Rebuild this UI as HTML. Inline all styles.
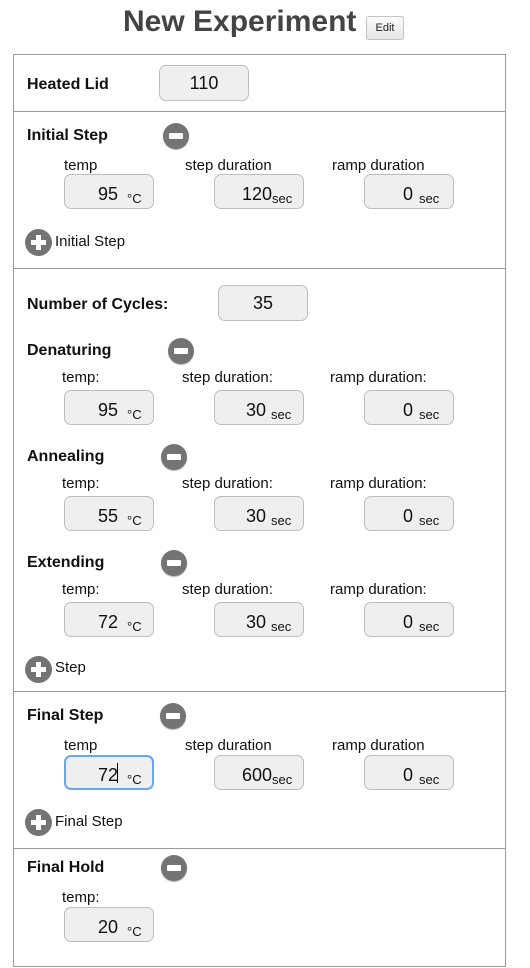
<!DOCTYPE html>
<html><head><meta charset="utf-8"><style>
body{margin:0;width:530px;height:968px;background:#fff;font-family:"Liberation Sans",Arial,sans-serif;position:relative;overflow:hidden;color:#111}
.a{position:absolute;white-space:nowrap}
.t{font-size:15px;line-height:18px}
.h{font-size:16px;font-weight:bold;line-height:18px}
.b{position:absolute;width:88px;height:35px;border:1px solid #bdbdbd;border-radius:7px;background:#efefef;box-sizing:border-box;width:90px}
.v{position:absolute;font-size:18px;line-height:20px;text-align:right}
.u{position:absolute;font-size:13px;line-height:14px}
.m{position:absolute;width:26px;height:26px;border-radius:50%;background:#747474;box-shadow:0 1px 1px rgba(0,0,0,.3)}
.m:after{content:"";position:absolute;left:6px;top:10px;width:14px;height:6px;background:#fff;border-radius:1px}
.p{position:absolute;width:27px;height:27px;border-radius:50%;background:#747474}
.p:before{content:"";position:absolute;left:6px;top:11px;width:15px;height:5px;background:#fff}
.p:after{content:"";position:absolute;left:11px;top:6px;width:5px;height:15px;background:#fff}
.hr{position:absolute;left:13px;width:493px;height:1px;background:#9a9a9a}
</style></head><body>
<div class="a" style="left:123px;top:4px;font-size:30px;font-weight:bold;color:#444;line-height:36px">New Experiment</div>
<div class="a" style="left:366px;top:16px;width:36px;height:22px;border:1px solid #c4c4c4;border-radius:3px;background:linear-gradient(#fafafa,#e6e6e6);font-size:11px;line-height:22px;text-align:center;color:#222">Edit</div>
<div class="a" style="left:13px;top:54px;width:491px;height:911px;border:1px solid #9a9a9a"></div>
<div class="hr" style="top:111px"></div>
<div class="hr" style="top:268px"></div>
<div class="hr" style="top:691px"></div>
<div class="hr" style="top:848px"></div>

<div class="a h" style="left:27px;top:76px">Heated Lid</div>
<div class="b" style="left:159px;top:65px;height:36px"></div>
<div class="v" style="left:159px;top:73px;width:90px;text-align:center">110</div>

<div class="a h" style="left:27px;top:127px">Initial Step</div>
<div class="m" style="left:163px;top:123px"></div>
<div class="a t" style="left:64px;top:157px">temp</div>
<div class="a t" style="left:185px;top:157px">step duration</div>
<div class="a t" style="left:332px;top:157px">ramp duration</div>
<div class="b" style="left:64px;top:174px"></div>
<div class="v" style="left:64px;top:184px;width:54px">95</div><div class="u" style="left:127px;top:192px">°C</div>
<div class="b" style="left:214px;top:174px"></div>
<div class="v" style="left:214px;top:184px;width:58px">120</div><div class="u" style="left:272px;top:192px">sec</div>
<div class="b" style="left:364px;top:174px"></div>
<div class="v" style="left:364px;top:184px;width:49px">0</div><div class="u" style="left:419px;top:192px">sec</div>
<div class="p" style="left:25px;top:229px"></div>
<div class="a t" style="left:55px;top:233px">Initial Step</div>

<div class="a h" style="left:27px;top:296px">Number of Cycles:</div>
<div class="b" style="left:218px;top:285px;height:36px"></div>
<div class="v" style="left:218px;top:293px;width:90px;text-align:center">35</div>

<div class="a h" style="left:27px;top:342px">Denaturing</div>
<div class="m" style="left:168px;top:338px"></div>
<div class="a t" style="left:62px;top:369px">temp:</div>
<div class="a t" style="left:182px;top:369px">step duration:</div>
<div class="a t" style="left:330px;top:369px">ramp duration:</div>
<div class="b" style="left:64px;top:390px"></div>
<div class="v" style="left:64px;top:400px;width:54px">95</div><div class="u" style="left:127px;top:408px">°C</div>
<div class="b" style="left:214px;top:390px"></div>
<div class="v" style="left:214px;top:400px;width:52px">30</div><div class="u" style="left:271px;top:408px">sec</div>
<div class="b" style="left:364px;top:390px"></div>
<div class="v" style="left:364px;top:400px;width:49px">0</div><div class="u" style="left:419px;top:408px">sec</div>

<div class="a h" style="left:27px;top:448px">Annealing</div>
<div class="m" style="left:161px;top:444px"></div>
<div class="a t" style="left:62px;top:475px">temp:</div>
<div class="a t" style="left:182px;top:475px">step duration:</div>
<div class="a t" style="left:330px;top:475px">ramp duration:</div>
<div class="b" style="left:64px;top:496px"></div>
<div class="v" style="left:64px;top:506px;width:54px">55</div><div class="u" style="left:127px;top:514px">°C</div>
<div class="b" style="left:214px;top:496px"></div>
<div class="v" style="left:214px;top:506px;width:52px">30</div><div class="u" style="left:271px;top:514px">sec</div>
<div class="b" style="left:364px;top:496px"></div>
<div class="v" style="left:364px;top:506px;width:49px">0</div><div class="u" style="left:419px;top:514px">sec</div>

<div class="a h" style="left:27px;top:554px">Extending</div>
<div class="m" style="left:161px;top:550px"></div>
<div class="a t" style="left:62px;top:581px">temp:</div>
<div class="a t" style="left:182px;top:581px">step duration:</div>
<div class="a t" style="left:330px;top:581px">ramp duration:</div>
<div class="b" style="left:64px;top:602px"></div>
<div class="v" style="left:64px;top:612px;width:54px">72</div><div class="u" style="left:127px;top:620px">°C</div>
<div class="b" style="left:214px;top:602px"></div>
<div class="v" style="left:214px;top:612px;width:52px">30</div><div class="u" style="left:271px;top:620px">sec</div>
<div class="b" style="left:364px;top:602px"></div>
<div class="v" style="left:364px;top:612px;width:49px">0</div><div class="u" style="left:419px;top:620px">sec</div>
<div class="p" style="left:25px;top:656px"></div>
<div class="a t" style="left:55px;top:659px">Step</div>

<div class="a h" style="left:27px;top:707px">Final Step</div>
<div class="m" style="left:160px;top:703px"></div>
<div class="a t" style="left:64px;top:737px">temp</div>
<div class="a t" style="left:185px;top:737px">step duration</div>
<div class="a t" style="left:332px;top:737px">ramp duration</div>
<div class="b" style="left:64px;top:755px;border:2px solid #6aa6e8"></div>
<div class="v" style="left:64px;top:765px;width:54px">72</div><div class="a" style="left:117px;top:763px;width:1px;height:20px;background:#000"></div><div class="u" style="left:127px;top:773px">°C</div>
<div class="b" style="left:214px;top:755px"></div>
<div class="v" style="left:214px;top:765px;width:58px">600</div><div class="u" style="left:272px;top:773px">sec</div>
<div class="b" style="left:364px;top:755px"></div>
<div class="v" style="left:364px;top:765px;width:49px">0</div><div class="u" style="left:419px;top:773px">sec</div>
<div class="p" style="left:25px;top:809px"></div>
<div class="a t" style="left:55px;top:813px">Final Step</div>

<div class="a h" style="left:27px;top:859px">Final Hold</div>
<div class="m" style="left:161px;top:855px"></div>
<div class="a t" style="left:62px;top:889px">temp:</div>
<div class="b" style="left:64px;top:907px"></div>
<div class="v" style="left:64px;top:917px;width:54px">20</div><div class="u" style="left:127px;top:925px">°C</div>
</body></html>
